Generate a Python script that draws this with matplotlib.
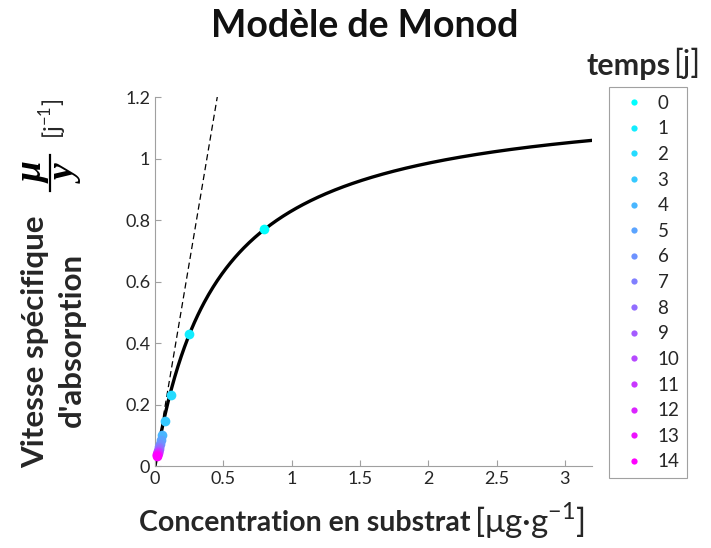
import matplotlib
matplotlib.use("Agg")
import matplotlib.pyplot as plt
from matplotlib.lines import Line2D
import numpy as np

plt.rcParams["font.family"] = ["Lato", "DejaVu Sans"]
plt.rcParams["mathtext.fontset"] = "custom"
plt.rcParams["mathtext.rm"] = "Lato"

# paramètres du modèle de Monod
MU_MAX = 1.212
KS = 0.46
X_MAX = 3.2

# points mesurés, un par jour
jours = list(range(15))
conc = [0.80, 0.25, 0.117, 0.075, 0.052, 0.042, 0.035, 0.030, 0.026,
        0.023, 0.021, 0.019, 0.017, 0.015, 0.014]
vitesse = [0.770, 0.428, 0.232, 0.145, 0.102, 0.085, 0.073, 0.063, 0.056,
           0.050, 0.046, 0.042, 0.038, 0.035, 0.032]

x_ticks = [0, 0.5, 1, 1.5, 2, 2.5, 3]
x_ticklabels = ["0", "0.5", "1", "1.5", "2", "2.5", "3"]
y_ticks = [0, 0.2, 0.4, 0.6, 0.8, 1.0, 1.2]
y_ticklabels = ["0", "0.2", "0.4", "0.6", "0.8", "1", "1.2"]

fig = plt.figure(figsize=(7.11, 5.48), dpi=100)
ax = fig.add_axes([0.218, 0.1496, 0.615, 0.673])

s = np.linspace(0, X_MAX, 400)
ax.plot(s, MU_MAX * s / (KS + s), color="black", lw=2.4, zorder=2)
s_lin = np.array([0, 0.6])
ax.plot(s_lin, MU_MAX / KS * s_lin, color="black", lw=0.9,
        ls=(0, (5, 3)), zorder=1)

colors = plt.cm.cool(np.linspace(0, 1, len(jours)))
for j, x, y, c in zip(jours, conc, vitesse, colors):
    ax.plot(x, y, "o", color=c, ms=7, mec="none", zorder=3, clip_on=False)

ax.set_xlim(0, X_MAX)
ax.set_ylim(0, 1.2)
ax.set_xticks(x_ticks)
ax.set_xticklabels(x_ticklabels)
ax.set_yticks(y_ticks)
ax.set_yticklabels(y_ticklabels)
for side in ("top", "right"):
    ax.spines[side].set_visible(False)
for side in ("left", "bottom"):
    ax.spines[side].set_color("#a0a0a0")
    ax.spines[side].set_linewidth(0.8)
ax.tick_params(direction="in", length=4, color="#a0a0a0", labelsize=13,
               labelcolor="#262626")

# titres
fig.text(0.513, 0.952, "Modèle de Monod", ha="center", va="center",
         fontsize=27, fontweight="bold", color="#111111")
fig.text(0.662, 0.045, "Concentration en substrat", ha="right", va="center",
         fontsize=20.5, fontweight="bold", color="#262626")
fig.text(0.667, 0.049, r"[μg·g$^{-1}$]", ha="left", va="center",
         fontsize=24, color="#262626")

# étiquette de l'axe y
fig.text(0.049, 0.376, "Vitesse spécifique", rotation=90, ha="center",
         va="center", fontsize=22.5, fontweight="bold", color="#262626")
fig.text(0.101, 0.38, "d'absorption", rotation=90, ha="center",
         va="center", fontsize=22.5, fontweight="bold", color="#262626")
serif_bi = dict(family="Liberation Serif", style="italic", weight="bold",
                fontsize=27, rotation=90, ha="center", va="center")
fig.text(0.046, 0.686, "μ", **serif_bi)
fig.text(0.095, 0.681, "y", **serif_bi)
fig.add_artist(Line2D([0.070, 0.070], [0.652, 0.718], color="black",
                      lw=1.6, transform=fig.transFigure))
fig.text(0.074, 0.783, r"[j$^{-1}$]", rotation=90, ha="center",
         va="center", fontsize=17, color="#262626")

# légende
handles = [Line2D([], [], ls="none", marker="o", color=c, ms=4.5, mec="none")
           for c in colors]
leg = fig.legend(handles, [str(j) for j in jours], loc="upper left",
                 bbox_to_anchor=(0.8565, 0.841), borderaxespad=0,
                 frameon=True, fontsize=13.5,
                 labelspacing=0.46, handletextpad=0.27, borderpad=0.4,
                 handlelength=1.92, fancybox=False, edgecolor="#8a8a8a")
leg.get_frame().set_linewidth(0.8)
for t in leg.get_texts():
    t.set_color("#262626")
fig.text(0.943, 0.88, "temps", ha="right", va="center", fontsize=22,
         fontweight="bold", color="#262626")
fig.text(0.947, 0.884, "[j]", ha="left", va="center", fontsize=23,
         color="#262626")

fig.savefig("out.png", dpi=100)
